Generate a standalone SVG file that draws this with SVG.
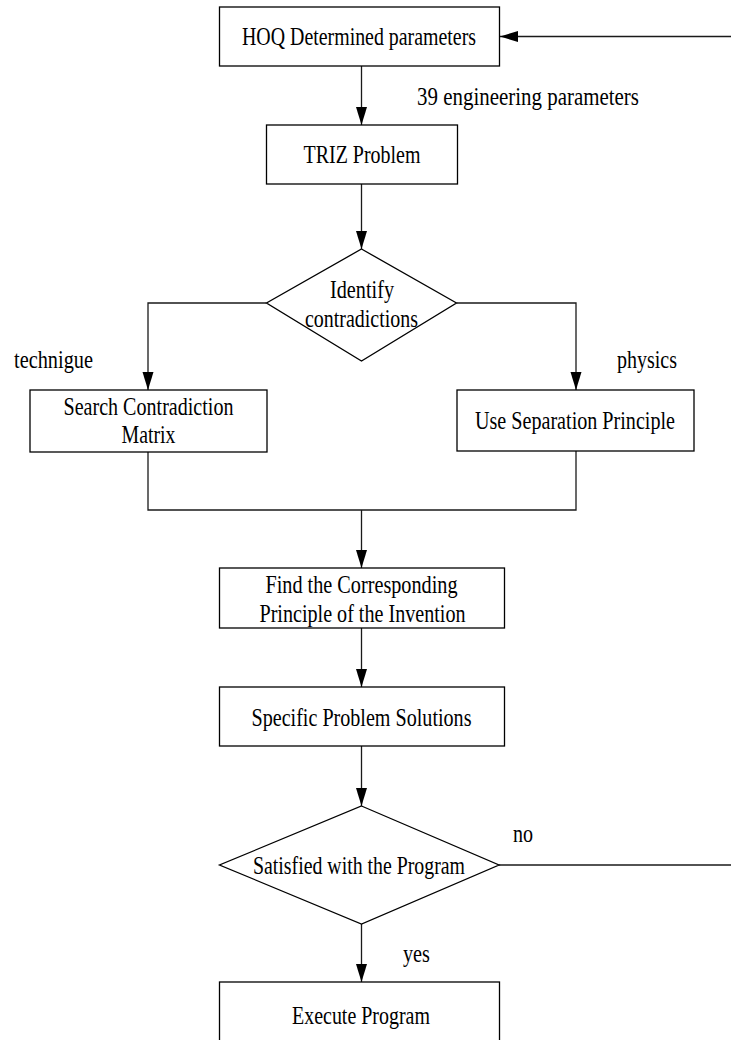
<svg xmlns="http://www.w3.org/2000/svg" width="731" height="1040" viewBox="0 0 731 1040">
<style>
.n{fill:#fff;stroke:#000;stroke-width:1.3}
.c{fill:none;stroke:#1a1a1a;stroke-width:1.3}
text{font-family:"Liberation Serif","Times New Roman",serif;font-size:26px;fill:#000}
.m{text-anchor:middle}
</style>
<defs>
<marker id="ah" markerUnits="userSpaceOnUse" markerWidth="19" markerHeight="12" refX="18" refY="5.5" orient="auto" viewBox="0 0 19 11">
<path d="M0,0 L18,5.5 L0,11 z" fill="#000"/>
</marker>
</defs>
<rect width="731" height="1040" fill="#fff"/>
<g id="connectors">
<line class="c" x1="731" y1="36.5" x2="500" y2="36.5" marker-end="url(#ah)"/>
<line class="c" x1="361.5" y1="66" x2="361.5" y2="125" marker-end="url(#ah)"/>
<line class="c" x1="361.5" y1="184" x2="361.5" y2="249" marker-end="url(#ah)"/>
<polyline class="c" points="266.5,303 148,303 148,390" marker-end="url(#ah)"/>
<polyline class="c" points="456.5,303 576,303 576,390" marker-end="url(#ah)"/>
<polyline class="c" points="148,452 148,510 576,510 576,451"/>
<line class="c" x1="361.5" y1="510" x2="361.5" y2="568" marker-end="url(#ah)"/>
<line class="c" x1="361.5" y1="628" x2="361.5" y2="687" marker-end="url(#ah)"/>
<line class="c" x1="361.5" y1="746" x2="361.5" y2="806" marker-end="url(#ah)"/>
<line class="c" x1="499" y1="865" x2="731" y2="865"/>
<line class="c" x1="361.5" y1="924" x2="361.5" y2="982" marker-end="url(#ah)"/>
<text x="417" y="105" textLength="222" lengthAdjust="spacingAndGlyphs">39 engineering parameters</text>
<text x="14" y="368" textLength="79" lengthAdjust="spacingAndGlyphs">technigue</text>
<text x="617" y="368" textLength="60" lengthAdjust="spacingAndGlyphs">physics</text>
<text x="513" y="842" textLength="20" lengthAdjust="spacingAndGlyphs">no</text>
<text x="403" y="962" textLength="27" lengthAdjust="spacingAndGlyphs">yes</text>
</g>
<g id="hoq">
<rect class="n" x="219.5" y="7" width="280" height="59"/>
<text class="m" x="359" y="45" textLength="234" lengthAdjust="spacingAndGlyphs">HOQ Determined parameters</text>
</g>
<g id="triz">
<rect class="n" x="266.5" y="125" width="191" height="59"/>
<text class="m" x="362" y="163" textLength="117" lengthAdjust="spacingAndGlyphs">TRIZ Problem</text>
</g>
<g id="identify">
<polygon class="n" points="361.5,249 456.5,303 361.5,361 266.5,303"/>
<text class="m" x="362" y="298" textLength="64" lengthAdjust="spacingAndGlyphs">Identify</text>
<text class="m" x="361.5" y="327" textLength="113" lengthAdjust="spacingAndGlyphs">contradictions</text>
</g>
<g id="matrix">
<rect class="n" x="30" y="390" width="237" height="62"/>
<text class="m" x="148.5" y="415" textLength="170" lengthAdjust="spacingAndGlyphs">Search Contradiction</text>
<text class="m" x="148.5" y="443" textLength="54" lengthAdjust="spacingAndGlyphs">Matrix</text>
</g>
<g id="separation">
<rect class="n" x="457" y="390" width="237" height="61"/>
<text class="m" x="575" y="429" textLength="200" lengthAdjust="spacingAndGlyphs">Use Separation Principle</text>
</g>
<g id="principle">
<rect class="n" x="219.5" y="568" width="285" height="60"/>
<text class="m" x="361.5" y="593" textLength="192" lengthAdjust="spacingAndGlyphs">Find the Corresponding</text>
<text class="m" x="362.5" y="622" textLength="206" lengthAdjust="spacingAndGlyphs">Principle of the Invention</text>
</g>
<g id="solutions">
<rect class="n" x="219.5" y="687" width="285" height="59"/>
<text class="m" x="361.5" y="726" textLength="220" lengthAdjust="spacingAndGlyphs">Specific Problem Solutions</text>
</g>
<g id="satisfied">
<polygon class="n" points="361.5,806 499,865 361.5,924 219.5,865"/>
<text class="m" x="359" y="874" textLength="212" lengthAdjust="spacingAndGlyphs">Satisfied with the Program</text>
</g>
<g id="execute">
<rect class="n" x="219.5" y="982" width="280" height="70"/>
<text class="m" x="361" y="1024" textLength="138" lengthAdjust="spacingAndGlyphs">Execute Program</text>
</g>
</svg>
